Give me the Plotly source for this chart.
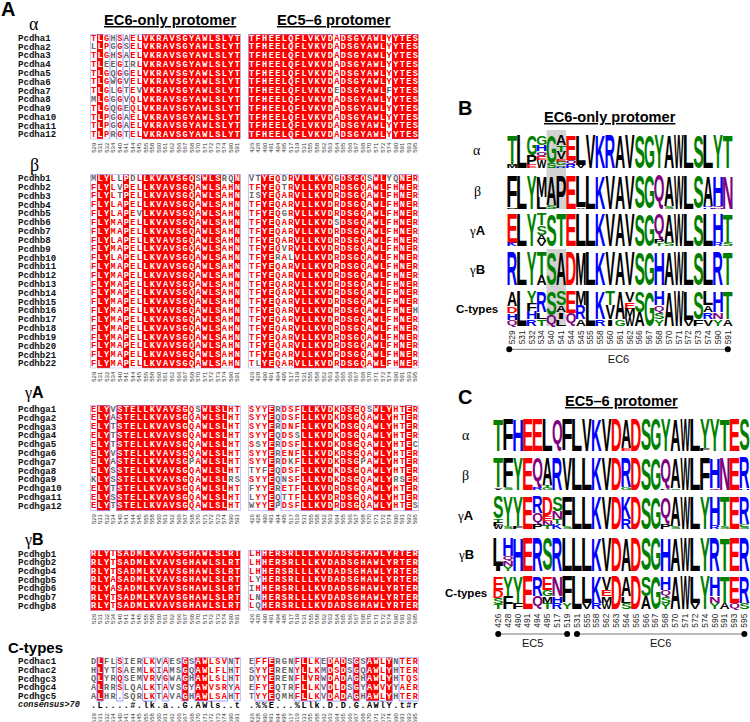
import re
from collections import Counter
import plotly.graph_objects as go

W, H = 750, 722

POS_L = [529,531,532,534,540,541,544,545,555,558,560,561,562,566,567,568,570,571,572,573,574,590,591]
POS_R = [426,428,490,491,494,495,517,519,531,555,558,562,563,564,565,566,567,568,570,571,572,574,590,591,593,595]

NAMES_A = ["Pcdha%d" % i for i in range(1, 13)]
NAMES_B = ["Pcdhb%d" % i for i in range(1, 23)]
NAMES_GA = ["Pcdhga%d" % i for i in range(1, 13)]
NAMES_GB = ["Pcdhgb1","Pcdhgb2","Pcdhgb4","Pcdhgb5","Pcdhgb6","Pcdhgb7","Pcdhgb8"]
NAMES_C = ["Pcdhac1","Pcdhac2","Pcdhgc3","Pcdhgc4","Pcdhgc5"]

A_L = ["TLGHSAELVKRAVSGYAWLSLYT","LLPGGSELVKRAVSGYAWLSLYT","TLGHSAELVKRAVSGYAWLSLYT","TLEEGIRLVKRAVSGYAWLSLYT",
       "TLGQGGELVKRAVSGYAWLSLYT","TLGWGVELVKRAVSGYAWLSLYT","TLGLGTEVVKRAVSGYAWLSLYT","MLGGGVQLVKRAVSGYAWLSLYT",
       "TLGQGEQLVKRAVSGYAWLSLYT","TLPGGAELVKRAVSGYAWLSLYT","TLPGGAELVKRAVSGYAWLSLYT","TLPRGTELVKRAVSGYAWLSLYT"]
A_R = ["TFHEELQFLVKVDADSGYAWLYYTES"]*6 + ["TFHEELQFLVKVDEDSGYAWLFYTES"] + ["TFHEELQFLVKVDADSGYAWLYYTES"]*5
B_L = ["MLYLLPDLLKVAVSGQSWLSRQN","FLYLVPELLKVAVSGQAWLSAHN","FLYLTPELLKVAVSGQAWLSAHN","FLYLAPELLKVAVSGQAWLSAHN",
       "FLYLAPEVLKVAVSGQAWLSAHN","FLYMAPELLKVAVSGQAWLSAHN","FLYMAPELLKVAVSGQAWLSAHN","FLYLAPELLKVAVSGQAWLSAHN",
       "FLYMAPELLKVAVSGQAWLSAHN","FLYLAPELLKVAVSGQAWLSAHN"] + ["FLYMAPELLKVAVSGQAWLSAHN"]*12
B_R = ["VTYEQDRVLLKVDGDSGQSWLYQNER","TFYEQTRVLLKVDRDSGQAWLFHNER","ISYEQARVLLKVDRDSGQAWLFHNER","TFYEQARVLLKVDRDSGQAWLFHNER",
       "TFYEQGRVLLKVDRDSGQAWLFHNER","TFYEQARVLLKVDSDSGQAWLFHNER","TFYEQARVLLKVDRDSGQAWLFHNER","TFYEQARVLLKVDRDSGQAWLFHNER",
       "TFYEQVRVLLKVDRDSGQAWLFHNER","TFYERALVLLKVDRDSGQAWLFHNER"] + ["TFYEQARVLLKVDRDSGQAWLFHNER"]*5 + \
      ["TFYEQARVLLKVDRDSGQAWLFHNEH"] + ["TFYEQARVLLKVDRDSGQAWLFHNER"]*5 + ["TLYEQARVLLKVDRDSGQAWLFHNER"]
GA_L = ["ELYVSTELLKVAVSGQSWLSLHT","ELYASTELLKVAVSGQAWLSLHT","ELYTSTELLKVAVSGQAWLSLHT","ELYTSTELLKVAVSGQAWLSLHT",
        "ELYTSTELLKVAVSGQAWLSLHT","ELYVSTELLKVAVSGQAWLSLHT","ELYASTELLKVAVSGPAWLSLHT","ELYSSTELLKVAVSGQAWLSLHT",
        "KLYSSTELLKVAVSGQAWLSLRS","ELYTSTELLKVAVSGQAWLSLHT","ELYSSTELLKVAVSGQAWLSLHT","ELYTSTELLKVAVSGQAWLSLHT"]
GA_R = ["SYYERDSFLLKVDKDSGQSWLYHTER","SYYEQDSFLLKVDKDSGQAWLYHTER","SYYERDNFLLKVDKDSGQAWLYHTER","SYYEQDSSLLKVDKDSGQAWLYHTER",
        "SSYERDSFLLKVDKDSGQAWLYHTEC","SYYERENFLLKVDKDSGQAWLYHTER","SYYERDKFLLKVDKDSGPAWLYHTER","TYFEQDSFLLKVDKDSGQAWLYHTER",
        "SYYEQNSFLLKVDKDSGQAWLYRSER","FYYERETFLLKVDRDSGQAWLYHTER","LYYEQTTFLLKVDRDSGQAWLYHTER","WYYEPDSFLLKVDRDSGQAWLYHTES"]
GB_L = ["RLYTSADMLKVAVSGHAWLSLRT"]*3 + ["RLYASADMLKVAVSGHAWLSLRT"]*2 + ["RLYTSADMLKVAVSGHAWLSLRT"]*2
GB_R = ["LHHERSRLLLKVDADSGHAWLYRTER","LHHERSRLLLKVDADSGHAWLYRTER","LHHERSRLLLKVDADSGHAWLYRTER","LYHERSRLLLKVDADSGHAWLYRTER",
        "IHHERSRLLLKVDADSGHAWLYRTER","LNHERSRLLLKVDADSGHAWLYRTER","LQHERSRLLLKVDADSGHAWLYRTER"]
C_L = ["DLFLSIERLKVAESGSAWLSVNT","HLYTSAEMLKIAMSGQAWLFLHT","QLYRQSEMVRVGWAGHAWLSLHT","ALRRSLQALKTAVSGYAWVSRYA","ALHR.SQRLKTAVAGHAWLSAHT"]
C_R = ["EFFERGNFLLKEDADSGSAWLYNTER","SYYERENYLLKMDSDSGQAWLYHTER","DYYERENFLVRWDADAGHAWLYHTQS","EFYEQTRFLLKVDLDSGYAWVYYAER","TYYEQMHFLLKVDADAGHAWLYHTER"]
CONS_L = ".L....#.lk.a..G.AWls..t"
CONS_R = ".%%E...%Llk.D.D.G.AWlY.t#r"

# column class: w = white on red, r = red letter, k = grey letter
ST_A_L = "rwrkrkrrwwwwwwwwwwwwwww"
ST_A_R = "wwwwwwwwwwwwwrwwwwwwwrwwww"
ST_B_L = "rwwrrwrrwwwwwwwwrwwwrrw"
ST_B_R = "rrwwrrrwwwwwwrwwwwrwwrrwwr"
ST_GA_L = "rwwkwwwwwwwwwwwrrwwwwrr"
ST_GA_R = "rrrwkrrrwwwwwrwwwrrwwwrrwr"
ST_GB_L = "wwwrwwwwwwwwwwwwwwwwwww"
ST_GB_R = "rrwwwwwwwwwwwwwwwwwwwwwwww"
ST_C_L = "kwkkrkkkrrkrkkwkwwrrrkr"
ST_C_R = "krrwkkkrwrrkwrwkwkwwrwkrrr"

FR_A_L = [(0,2),(4,4),(6,22)]
FR_A_R = [(0,25)]
FR_B_L = [(0,22)]
FR_B_R = [(0,25)]
FR_GA_L = [(0,2),(4,22)]
FR_GA_R = [(0,3),(5,25)]
FR_GB_L = [(0,22)]
FR_GB_R = [(0,1),(2,25)]
FR_C_L = [(1,1),(4,4),(8,9),(11,11),(14,14),(16,20),(22,22)]
FR_C_R = [(1,3),(7,10),(12,14),(16,16),(18,21),(23,25)]

# sequence logos: one string per column, top to bottom, letter + percent
LOGO_B_A = ["T90M10","L100","G60P30E10","G28H20Q17E10W25","G85S15","A30T20V22E8G10S5R5","E75Q15R10","L90V10","V100","K100","R100","A100","V100","S100","G100","Y100","A100","W100","L100","S100","L100","Y100","T100"]
LOGO_B_B = ["F95M5","L100","Y100","M65L35","A88S12","P100","E100","L95V5","L100","K100","V100","A100","V100","S100","G100","Q100","A93S7","W100","L100","S100","A92R4H4","H92Q4N4","N100"]
LOGO_B_GA = ["E90K10","L100","Y100","T35S30A18V17","S100","T100","E100","L100","L100","K100","V100","A100","V100","S100","G100","Q82P10T8","A90S10","W100","L100","S100","L100","H88R12","T90S10"]
LOGO_B_GB = ["R100","L100","Y100","T70A30","S100","A100","D100","M100","L100","K100","V100","A100","V100","S100","G100","H100","A100","W100","L100","S100","L100","R100","T100"]
LOGO_B_C = ["A42D20H20Q18","L100","Y36F22H22R20","R60L20T20","S68Q32","S40A20I20L20","E62Q38","M40R40A20","L100","K80R20","T40V40I20","A80G20","V30E20M25W25","S60A40","G100","H40Q20S20Y20","A100","W100","L82V18","S80F20","L40A20R20V20","H60N20Y20","T80A20"]
LOGO_C_A = ["T100","F100","H100","E100","E100","L100","Q100","F100","L100","V100","K100","V100","D100","A92E8","D100","S100","G100","Y100","A100","W100","L100","Y92F8","Y100","T100","E100","S100"]
LOGO_C_B = ["T92V4I4","F92S8","Y100","E100","Q92R8","A85T8G7","R100","V100","L100","L100","K100","V100","D100","R92G8","D100","S100","G100","Q95P5","A95S5","W100","L100","F100","H95Q5","N100","E100","R95H5"]
LOGO_C_GA = ["S68T12F10W10","Y92S8","Y92F8","E100","R50Q35P15","D60E15N15T10","S45N25T15K15","F92S8","L100","L100","K100","V100","D100","K70R30","D100","S100","G100","Q85P15","A92S8","W100","L100","Y100","H88R12","T92S8","E100","R85C8S7"]
LOGO_C_GB = ["L85I15","H55Q15N15Y15","H100","E100","R100","S100","R100","L100","L100","L100","K100","V100","D100","A100","D100","S100","G100","H100","A100","W100","L100","Y100","R100","T100","E100","R100"]
LOGO_C_C = ["E40D25S20T15","Y60F40","Y80F20","E100","R60Q40","E40G20M20T20","N60H20R20","F80Y20","L100","L80V20","K80R20","V40E20M20W20","D100","A60L20S20","D100","S60A40","G100","H40Q20S20Y20","A100","W100","L80V20","Y100","H60N20Y20","T80A20","E80Q20","R80S20"]

CHEM = {}
for s, c in (("GSTYC", "#008000"), ("QN", "#800080"), ("KRH", "#0000ff"), ("DE", "#ff0000"), ("AVLIPWFM", "#000000")):
    for ch in s:
        CHEM[ch] = c

RED, GREY, FRAME = "#ff0000", "#666666", "#9a9aff"

fig = go.Figure()
axis_n = [0]


def new_axes(left, right, top, bottom, xr, yr, tickvals=None, ticktext=None, tickfont=None, ticklen=3):
    axis_n[0] += 1
    n = axis_n[0]
    s = "" if n == 1 else str(n)
    xa = dict(domain=[left / W, right / W], range=xr, anchor="y" + s, showgrid=False, zeroline=False, showline=False)
    if tickvals is None:
        xa.update(visible=False)
    else:
        xa.update(tickmode="array", tickvals=tickvals, ticktext=ticktext, tickangle=-90, tickfont=tickfont,
                  ticks="outside", ticklen=ticklen, tickcolor="rgba(0,0,0,0)")
    ya = dict(domain=[1 - bottom / H, 1 - top / H], range=yr, anchor="x" + s, visible=False)
    fig.layout["xaxis" + s] = xa
    fig.layout["yaxis" + s] = ya
    return "x" + s, "y" + s


def alignment(seqs, styles, frames, names, pos, left, right, top, bottom, consensus=None):
    n, m = len(seqs), len(seqs[0])
    row = (bottom - top) / n
    extra = 1 if consensus else 0
    xr, yr = new_axes(left, right, top, bottom + extra * row, [-0.5, m - 0.5], [n + extra - 0.5, -0.5],
                      tickvals=list(range(m)), ticktext=[str(p) for p in pos],
                      tickfont=dict(family="Liberation Sans", size=6, color="#333333"), ticklen=0)
    z = [[1 if styles[j] == "w" else 0 for j in range(m)] for _ in range(n)]
    if consensus:
        z.append([None] * m)
    fig.add_trace(go.Heatmap(z=z, x=list(range(m)), y=list(range(n + extra)), xaxis=xr, yaxis=yr, zmin=0, zmax=1,
                             colorscale=[[0, "#ffffff"], [1, RED]], showscale=False, hoverinfo="skip"))
    xs, ys, tx, col = [], [], [], []
    need = 2 if n >= 7 else 1
    for j in range(m):
        cnt = Counter(s[j] for s in seqs)
        for i in range(n):
            ch = seqs[i][j]
            st = styles[j]
            xs.append(j); ys.append(i); tx.append(ch)
            if st == "w":
                col.append("#ffffff")
            elif st == "r" and cnt[ch] >= need and ch != ".":
                col.append(RED)
            else:
                col.append(GREY)
    if consensus:
        for j, ch in enumerate(consensus):
            xs.append(j); ys.append(n); tx.append(ch); col.append("#000000")
    fig.add_trace(go.Scatter(x=xs, y=ys, text=tx, mode="text", xaxis=xr, yaxis=yr, hoverinfo="skip",
                             textfont=dict(family="Liberation Mono", size=8.6, color=col, weight="bold"),
                             textposition="middle center", cliponaxis=False, showlegend=False))
    for a, b in frames:
        fig.add_shape(type="rect", xref=xr, yref=yr, x0=a - 0.5, x1=b + 0.5, y0=-0.5, y1=n - 0.5,
                      line=dict(color=FRAME, width=1), fillcolor="rgba(0,0,0,0)", layer="above")
    if names:
        for i, nm in enumerate(names):
            fig.add_annotation(text=nm, xref="paper", x=16.3 / W, xanchor="left", yref=yr, y=i, yanchor="middle",
                               showarrow=False, font=dict(family="Liberation Mono", size=9.1, color="#111111", weight="bold"))
        if consensus:
            fig.add_annotation(text="<i>consensus&gt;70</i>", xref="paper", x=16.3 / W, xanchor="left", yref=yr, y=n,
                               yanchor="middle", showarrow=False,
                               font=dict(family="Liberation Mono", size=8.6, color="#111111", weight="bold"))


LX = (90.3, 240.7)
RX = (248.3, 418.7)
blocks = [
    (A_L, ST_A_L, FR_A_L, A_R, ST_A_R, FR_A_R, NAMES_A, 34, 139.3, None, None),
    (B_L, ST_B_L, FR_B_L, B_R, ST_B_R, FR_B_R, NAMES_B, 174.3, 368.3, None, None),
    (GA_L, ST_GA_L, FR_GA_L, GA_R, ST_GA_R, FR_GA_R, NAMES_GA, 405, 510.7, None, None),
    (GB_L, ST_GB_L, FR_GB_L, GB_R, ST_GB_R, FR_GB_R, NAMES_GB, 550, 610.5, None, None),
    (C_L, ST_C_L, FR_C_L, C_R, ST_C_R, FR_C_R, NAMES_C, 657.3, 701, CONS_L, CONS_R),
]
for sl, stl, fl, sr, str_, fr, nm, top, bot, cl, cr in blocks:
    alignment(sl, stl, fl, nm, POS_L, LX[0], LX[1], top, bot, cl)
    alignment(sr, str_, fr, None, POS_R, RX[0], RX[1], top, bot, cr)


def logo(rows, pos, left, right, spans):
    logo_axes = []
    m = len(rows[0])
    for k, (cols, (top, bot)) in enumerate(zip(rows, spans)):
        last = k == len(rows) - 1
        kw = {}
        if last:
            kw = dict(tickvals=list(range(m)), ticktext=[str(p) for p in pos],
                      tickfont=dict(family="Liberation Sans", size=8.4, color="#222222"), ticklen=0)
        xr, yr = new_axes(left, right, top, bot, [-0.5, m - 0.5], [0, 100], **kw)
        logo_axes.append((xr, yr))
        xs, ys, hs, tx, col = [], [], [], [], []
        for j, spec in enumerate(cols):
            parts = [(a, int(b)) for a, b in re.findall(r"([A-Z])(\d+)", spec)]
            total = sum(p[1] for p in parts)
            y = 100.0
            for ch, v in parts:
                h = v * 100.0 / total
                y -= h
                xs.append(j); ys.append(y + h / 2); hs.append(h); tx.append(ch); col.append(CHEM[ch])
        fig.add_trace(go.Scatter(x=xs, y=ys, text=tx, customdata=hs, meta="logo", mode="text", xaxis=xr, yaxis=yr,
                                 hoverinfo="skip", showlegend=False, cliponaxis=False,
                                 textfont=dict(family="Liberation Sans", size=20, color=col, weight="bold")))
    return logo_axes


B_SPANS = [(135.7, 168.3), (176, 208.7), (214, 246), (252.3, 285), (291.7, 326)]
C_SPANS = [(419.3, 450.7), (458, 490), (497, 529), (537.7, 570.7), (576.7, 609.3)]
bx = (507.3, 732.7)
cx = (493.3, 749.3)
b_axes = logo([LOGO_B_A, LOGO_B_B, LOGO_B_GA, LOGO_B_GB, LOGO_B_C], POS_L, bx[0], bx[1], B_SPANS)
c_axes = logo([LOGO_C_A, LOGO_C_B, LOGO_C_GA, LOGO_C_GB, LOGO_C_C], POS_R, cx[0], cx[1], C_SPANS)

# grey highlight behind columns 540/541 of panel B
for top, bot in ((130, 209), (249, 326)):
    fig.add_shape(type="rect", xref=b_axes[0][0], yref="paper", x0=3.5, x1=5.5, y0=1 - bot / H, y1=1 - top / H,
                  fillcolor="#d2d2d2", line=dict(width=0), layer="below")


def bracket(left, right, y, m, segments):
    xr, yr = new_axes(left, right, y - 12, y + 16, [-0.5, m - 0.5], [-16, 12])
    for a, b, label in segments:
        fig.add_trace(go.Scatter(x=[a, b], y=[0, 0], mode="lines+markers", xaxis=xr, yaxis=yr, hoverinfo="skip",
                                 line=dict(color="#777777", width=1), marker=dict(color="#000000", size=6),
                                 showlegend=False, cliponaxis=False))
        fig.add_trace(go.Scatter(x=[(a + b) / 2], y=[-10.5], mode="text", text=[label], xaxis=xr, yaxis=yr,
                                 hoverinfo="skip", showlegend=False, cliponaxis=False,
                                 textfont=dict(family="Liberation Sans", size=11, color="#111111")))


bracket(bx[0], bx[1], 349.3, 23, [(-0.3, 22, "EC6")])
bracket(cx[0], cx[1], 634, 26, [(0, 7, "EC5"), (8, 25, "EC6")])


def label(text, x, y, size=13, anchor="center", family="Liberation Sans", color="#000000"):
    fig.add_annotation(text=text, xref="paper", yref="paper", x=x / W, y=1 - y / H, xanchor=anchor, yanchor="middle",
                       showarrow=False, font=dict(family=family, size=size, color=color))


G = "<span style=\"font-family:'Liberation Serif'\">γ</span>"
label("<b>A</b>", 8, 9, size=20)
label("<b>B</b>", 465, 108, size=20)
label("<b>C</b>", 465, 397, size=20)
label("<b><u>EC6-only protomer</u></b>", 169.5, 20, size=14.7)
label("<b><u>EC5–6 protomer</u></b>", 334, 20, size=14.7)
label("<b><u>EC6-only protomer</u></b>", 610, 116.7, size=14.6)
label("<b><u>EC5–6 protomer</u></b>", 621, 400.7, size=14.6)
label("α", 34, 24, size=18, family="Liberation Serif")
label("β", 34, 165, size=18, family="Liberation Serif")
label(G + "<b>A</b>", 34, 393, size=16)
label(G + "<b>B</b>", 34, 540, size=16)
label("<b>C-types</b>", 6, 647, size=15, anchor="left")
for txt, y in (("α", 150), ("β", 191)):
    label(txt, 477, y, size=14, family="Liberation Serif")
label(G + "<b>A</b>", 477, 230, size=13)
label(G + "<b>B</b>", 477, 269, size=13)
label("<b>C-types</b>", 477, 309, size=11.5)
for txt, y in (("α", 435), ("β", 475)):
    label(txt, 466, y, size=14, family="Liberation Serif")
label(G + "<b>A</b>", 466, 515, size=13)
label(G + "<b>B</b>", 466, 554, size=13)
label("<b>C-types</b>", 466, 593, size=11.5)

fig.update_layout(width=W, height=H, autosize=False, margin=dict(l=0, r=0, t=0, b=0), showlegend=False,
                  paper_bgcolor="#ffffff", plot_bgcolor="rgba(0,0,0,0)")

# stretch the logo letters (real text) to fill their stack cell
POST = r"""
document.body.style.margin='0';
document.documentElement.style.overflow='hidden';
var gd=document.getElementById('{plot_id}');
var cv=document.createElement('canvas').getContext('2d');
cv.font='bold 100px "Liberation Sans"';
gd.querySelectorAll('g.trace.scatter').forEach(function(g){
  var d=g.__data__; if(!d||!d[0]||!d[0].trace||d[0].trace.meta!=='logo')return;
  var t=d[0].trace;
  var xa=gd._fullLayout['xaxis'+t.xaxis.slice(1)], ya=gd._fullLayout['yaxis'+t.yaxis.slice(1)];
  var colw=Math.abs(xa.l2p(1)-xa.l2p(0));
  g.querySelectorAll('.textpoint text').forEach(function(el,i){
    var ch=t.text[i], m=cv.measureText(ch);
    var L=m.actualBoundingBoxLeft,R=m.actualBoundingBoxRight,A=m.actualBoundingBoxAscent,D=m.actualBoundingBoxDescent;
    var h=t.customdata[i];
    var ptop=ya.l2p(t.y[i]+h/2), pbot=ya.l2p(t.y[i]-h/2);
    var w=(ch==='I')?colw*0.45:colw*0.98;
    var sx=w/(L+R), sy=(pbot-ptop)/(A+D);
    var pcx=xa.l2p(t.x[i]);
    var ox=pcx-w/2+L*sx, oy=pbot-D*sy;
    el.parentNode.removeAttribute('transform');
    el.style.fontSize='100px';
    el.setAttribute('text-anchor','start');
    el.setAttribute('x','0'); el.setAttribute('y','0');
    el.setAttribute('transform','translate('+ox+','+oy+') scale('+sx+','+sy+')');
  });
});
"""

fig.write_html("out.html", post_script=POST, config=dict(displayModeBar=False))
